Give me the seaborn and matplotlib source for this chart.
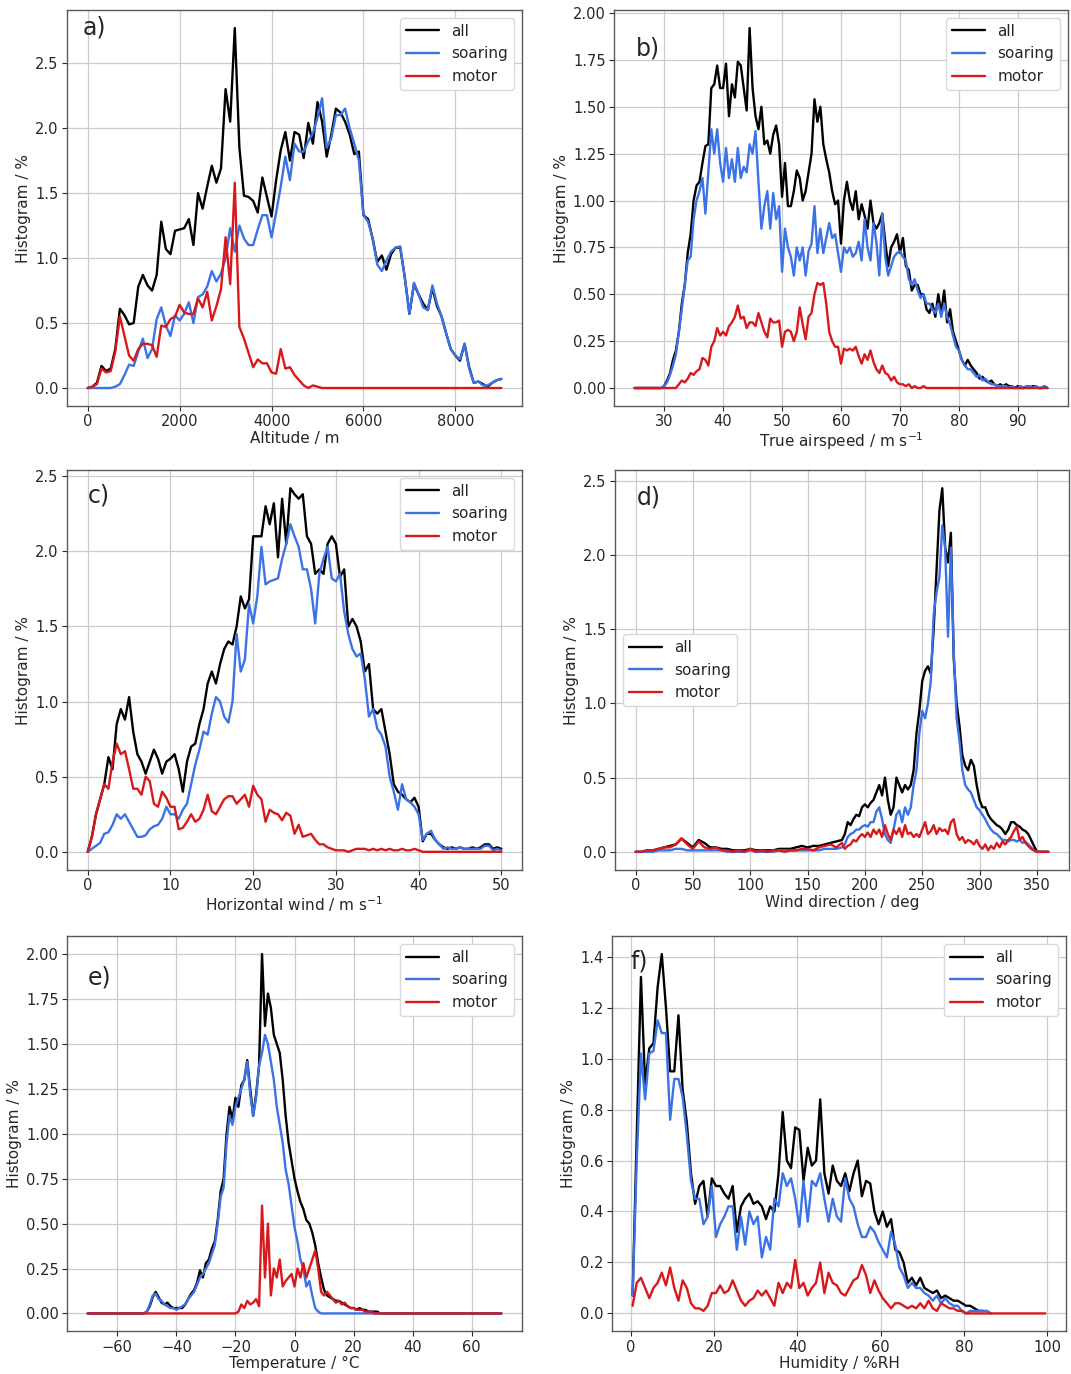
import numpy as np
import matplotlib.pyplot as plt
from matplotlib.ticker import MultipleLocator
import seaborn as sns

# ------------------ DATA ------------------
# a) Altitude, bins every 100 m from 0 to 9000
alt_x = np.arange(0, 9001, 100)
alt_all = [0.00, 0.01, 0.04, 0.17, 0.13, 0.15, 0.30, 0.61, 0.56, 0.49,
           0.50, 0.78, 0.87, 0.79, 0.75, 0.87, 1.28, 1.07, 1.03, 1.21,
           1.22, 1.23, 1.30, 1.10, 1.50, 1.38, 1.55, 1.71, 1.58, 1.69,
           2.30, 2.05, 2.77, 1.85, 1.48, 1.47, 1.44, 1.35, 1.62, 1.47,
           1.32, 1.60, 1.83, 1.97, 1.75, 1.97, 1.95, 1.77, 2.04, 1.88,
           2.20, 2.05, 1.78, 1.95, 2.15, 2.12, 2.05, 1.95, 1.80, 1.82,
           1.33, 1.30, 1.15, 0.97, 1.02, 0.91, 1.03, 1.08, 1.08, 0.85,
           0.57, 0.80, 0.72, 0.65, 0.60, 0.77, 0.63, 0.55, 0.42, 0.30,
           0.25, 0.21, 0.34, 0.16, 0.04, 0.05, 0.03, 0.01, 0.04, 0.06,
           0.07]
alt_soar = [0.00, 0.00, 0.00, 0.00, 0.00, 0.00, 0.01, 0.03, 0.10, 0.18,
            0.17, 0.28, 0.38, 0.23, 0.30, 0.53, 0.62, 0.48, 0.40, 0.56,
            0.52, 0.57, 0.66, 0.50, 0.70, 0.72, 0.78, 0.90, 0.82, 0.88,
            1.00, 1.23, 1.05, 1.25, 1.15, 1.10, 1.10, 1.22, 1.33, 1.33,
            1.16, 1.35, 1.55, 1.78, 1.60, 1.88, 1.82, 1.82, 1.90, 1.96,
            2.08, 2.23, 1.85, 1.92, 2.10, 2.10, 2.15, 2.00, 1.88, 1.75,
            1.33, 1.28, 1.15, 0.95, 0.90, 0.98, 1.05, 1.08, 1.09, 0.85,
            0.57, 0.81, 0.72, 0.62, 0.60, 0.79, 0.65, 0.55, 0.42, 0.30,
            0.25, 0.22, 0.34, 0.15, 0.04, 0.05, 0.02, 0.02, 0.04, 0.06,
            0.07]
alt_motor = [0.00, 0.01, 0.03, 0.15, 0.12, 0.13, 0.28, 0.55, 0.40, 0.25,
             0.21, 0.30, 0.34, 0.34, 0.33, 0.24, 0.48, 0.47, 0.53, 0.55,
             0.64, 0.58, 0.57, 0.57, 0.69, 0.62, 0.74, 0.52, 0.63, 0.76,
             1.16, 0.80, 1.58, 0.47, 0.38, 0.27, 0.16, 0.22, 0.19, 0.19,
             0.12, 0.11, 0.30, 0.15, 0.16, 0.10, 0.06, 0.02, 0.00, 0.02,
             0.01, 0.00, 0.00, 0.00, 0.00, 0.00, 0.00, 0.00, 0.00, 0.00,
             0.00, 0.00, 0.00, 0.00, 0.00, 0.00, 0.00, 0.00, 0.00, 0.00,
             0.00, 0.00, 0.00, 0.00, 0.00, 0.00, 0.00, 0.00, 0.00, 0.00,
             0.00, 0.00, 0.00, 0.00, 0.00, 0.00, 0.00, 0.00, 0.00, 0.00,
             0.00]

# b) True airspeed, bins every 0.5 m/s from 25 to 95
tas_x = np.arange(25, 95.01, 0.5)
tas_all = [0.00, 0.00, 0.00, 0.00, 0.00, 0.00, 0.00, 0.00, 0.00, 0.00,
           0.01, 0.04, 0.08, 0.15, 0.20, 0.30, 0.45, 0.55, 0.72, 0.82,
           1.00, 1.08, 1.10, 1.20, 1.29, 1.30, 1.60, 1.62, 1.72, 1.60,
           1.60, 1.73, 1.45, 1.62, 1.55, 1.74, 1.72, 1.60, 1.48, 1.92,
           1.60, 1.45, 1.38, 1.50, 1.30, 1.32, 1.25, 1.35, 1.40, 1.30,
           1.02, 1.20, 0.97, 0.97, 1.05, 1.16, 1.12, 1.00, 1.05, 1.15,
           1.25, 1.54, 1.42, 1.50, 1.30, 1.22, 1.15, 1.05, 0.98, 1.00,
           0.77, 1.00, 1.10, 1.00, 0.95, 1.05, 0.90, 0.98, 0.92, 0.85,
           1.00, 0.88, 0.85, 0.88, 0.93, 0.78, 0.65, 0.75, 0.78, 0.82,
           0.72, 0.80, 0.65, 0.63, 0.52, 0.55, 0.55, 0.50, 0.50, 0.42,
           0.40, 0.45, 0.38, 0.50, 0.40, 0.52, 0.35, 0.42, 0.30, 0.25,
           0.20, 0.15, 0.12, 0.15, 0.12, 0.10, 0.08, 0.05, 0.06, 0.04,
           0.03, 0.04, 0.02, 0.01, 0.02, 0.01, 0.02, 0.01, 0.01, 0.00,
           0.01, 0.00, 0.00, 0.01, 0.00, 0.01, 0.01, 0.00, 0.00, 0.01,
           0.00]
tas_soar = [0.00, 0.00, 0.00, 0.00, 0.00, 0.00, 0.00, 0.00, 0.00, 0.00,
            0.01, 0.03, 0.07, 0.12, 0.18, 0.30, 0.42, 0.55, 0.68, 0.70,
            0.90, 1.00, 1.05, 1.12, 0.93, 1.15, 1.38, 1.25, 1.38, 1.20,
            1.10, 1.28, 1.12, 1.22, 1.10, 1.28, 1.12, 1.18, 1.15, 1.30,
            1.25, 1.37, 1.10, 0.85, 0.97, 1.05, 0.85, 1.04, 0.90, 0.97,
            0.62, 0.85, 0.75, 0.70, 0.60, 0.75, 0.68, 0.75, 0.60, 0.73,
            0.77, 0.97, 0.72, 0.85, 0.72, 0.80, 0.88, 0.80, 0.82, 0.72,
            0.62, 0.75, 0.72, 0.75, 0.70, 0.72, 0.78, 0.68, 0.90, 0.75,
            0.68, 0.88, 0.78, 0.60, 0.93, 0.70, 0.60, 0.65, 0.70, 0.72,
            0.73, 0.70, 0.68, 0.58, 0.55, 0.58, 0.52, 0.48, 0.50, 0.45,
            0.45, 0.42, 0.40, 0.45, 0.38, 0.45, 0.38, 0.34, 0.28, 0.22,
            0.20, 0.15, 0.12, 0.10, 0.10, 0.08, 0.06, 0.07, 0.04, 0.05,
            0.03, 0.02, 0.02, 0.01, 0.01, 0.01, 0.01, 0.00, 0.01, 0.00,
            0.00, 0.01, 0.00, 0.01, 0.01, 0.00, 0.01, 0.00, 0.00, 0.01,
            0.00]
tas_motor = [0.00, 0.00, 0.00, 0.00, 0.00, 0.00, 0.00, 0.00, 0.00, 0.00,
             0.00, 0.00, 0.00, 0.00, 0.00, 0.02, 0.04, 0.03, 0.05, 0.08,
             0.07, 0.09, 0.10, 0.16, 0.15, 0.12, 0.22, 0.25, 0.32, 0.28,
             0.30, 0.28, 0.33, 0.35, 0.38, 0.44, 0.37, 0.38, 0.32, 0.35,
             0.35, 0.33, 0.40, 0.35, 0.30, 0.27, 0.37, 0.35, 0.35, 0.36,
             0.22, 0.30, 0.31, 0.30, 0.25, 0.30, 0.43, 0.34, 0.26, 0.38,
             0.40, 0.50, 0.56, 0.55, 0.56, 0.45, 0.30, 0.25, 0.22, 0.22,
             0.13, 0.21, 0.20, 0.21, 0.20, 0.22, 0.17, 0.13, 0.18, 0.15,
             0.20, 0.14, 0.10, 0.08, 0.12, 0.08, 0.07, 0.04, 0.06, 0.03,
             0.02, 0.02, 0.01, 0.02, 0.00, 0.01, 0.00, 0.00, 0.01, 0.00,
             0.00, 0.00, 0.00, 0.00, 0.00, 0.00, 0.00, 0.00, 0.00, 0.00,
             0.00, 0.00, 0.00, 0.00, 0.00, 0.00, 0.00, 0.00, 0.00, 0.00,
             0.00, 0.00, 0.00, 0.00, 0.00, 0.00, 0.00, 0.00, 0.00, 0.00,
             0.00, 0.00, 0.00, 0.00, 0.00, 0.00, 0.00, 0.00, 0.00, 0.00,
             0.00]

# c) Horizontal wind, bins every 0.5 m/s from 0 to 50
wind_x = np.arange(0, 50.01, 0.5)
wind_all = [0.00, 0.10, 0.25, 0.35, 0.45, 0.63, 0.55, 0.85, 0.95, 0.88,
            1.03, 0.80, 0.65, 0.60, 0.52, 0.60, 0.68, 0.62, 0.52, 0.60,
            0.62, 0.65, 0.55, 0.40, 0.60, 0.70, 0.72, 0.85, 0.95, 1.12,
            1.20, 1.12, 1.25, 1.35, 1.40, 1.38, 1.50, 1.70, 1.62, 1.68,
            2.10, 2.10, 2.10, 2.30, 2.18, 2.32, 1.96, 2.35, 2.05, 2.42,
            2.38, 2.35, 2.38, 2.10, 2.05, 1.85, 1.88, 1.85, 2.05, 2.10,
            2.05, 1.83, 1.88, 1.50, 1.55, 1.50, 1.40, 1.20, 1.25, 0.95,
            0.92, 0.95, 0.80, 0.65, 0.45, 0.40, 0.38, 0.35, 0.33, 0.36,
            0.30, 0.07, 0.12, 0.12, 0.08, 0.05, 0.03, 0.02, 0.03, 0.02,
            0.03, 0.02, 0.02, 0.03, 0.02, 0.03, 0.05, 0.05, 0.02, 0.03,
            0.02]
wind_soar = [0.00, 0.02, 0.04, 0.06, 0.12, 0.13, 0.18, 0.25, 0.22, 0.25,
             0.20, 0.15, 0.10, 0.10, 0.11, 0.15, 0.17, 0.18, 0.22, 0.30,
             0.25, 0.25, 0.22, 0.28, 0.32, 0.45, 0.58, 0.68, 0.80, 0.78,
             0.92, 1.03, 1.00, 0.90, 0.86, 1.00, 1.45, 1.20, 1.28, 1.65,
             1.52, 1.70, 2.03, 1.78, 1.80, 1.81, 1.82, 1.95, 2.05, 2.18,
             2.10, 2.03, 1.88, 1.88, 1.75, 1.52, 1.85, 1.95, 2.03, 1.82,
             1.80, 1.85, 1.60, 1.45, 1.35, 1.30, 1.32, 1.15, 0.90, 0.95,
             0.82, 0.78, 0.70, 0.50, 0.40, 0.28, 0.45, 0.35, 0.33, 0.30,
             0.25, 0.08, 0.12, 0.14, 0.08, 0.05, 0.02, 0.03, 0.02, 0.02,
             0.03, 0.02, 0.02, 0.02, 0.02, 0.02, 0.04, 0.04, 0.01, 0.02,
             0.01]
wind_motor = [0.00, 0.10, 0.25, 0.35, 0.45, 0.42, 0.60, 0.72, 0.65, 0.67,
              0.55, 0.42, 0.42, 0.38, 0.50, 0.47, 0.32, 0.30, 0.40, 0.36,
              0.30, 0.30, 0.15, 0.16, 0.20, 0.25, 0.20, 0.22, 0.28, 0.38,
              0.27, 0.25, 0.30, 0.35, 0.37, 0.37, 0.32, 0.35, 0.38, 0.30,
              0.44, 0.38, 0.35, 0.20, 0.28, 0.26, 0.25, 0.21, 0.26, 0.24,
              0.12, 0.18, 0.10, 0.11, 0.12, 0.08, 0.05, 0.05, 0.03, 0.02,
              0.01, 0.01, 0.01, 0.00, 0.01, 0.02, 0.02, 0.02, 0.01, 0.02,
              0.01, 0.02, 0.01, 0.02, 0.01, 0.01, 0.02, 0.01, 0.01, 0.02,
              0.01, 0.00, 0.00, 0.00, 0.00, 0.00, 0.00, 0.00, 0.00, 0.00,
              0.00, 0.00, 0.00, 0.00, 0.00, 0.00, 0.00, 0.00, 0.00, 0.00,
              0.00]

# d) Wind direction: every 5 deg up to 175, then every 2.5 deg to 360
wdir_x = np.concatenate([np.arange(0, 176, 5), np.arange(180, 360.01, 2.5)])
wdir_all = [0.00, 0.00, 0.01, 0.01, 0.02, 0.03, 0.04, 0.05, 0.09, 0.06,
            0.03, 0.08, 0.06, 0.03, 0.03, 0.02, 0.02, 0.01, 0.01, 0.01,
            0.02, 0.01, 0.01, 0.01, 0.01, 0.02, 0.02, 0.02, 0.03, 0.04,
            0.03, 0.04, 0.04, 0.05, 0.06, 0.07,
            0.08, 0.12, 0.20, 0.18, 0.22, 0.25, 0.24, 0.30, 0.32, 0.30,
            0.33, 0.35, 0.40, 0.45, 0.38, 0.50, 0.35, 0.25, 0.30, 0.50,
            0.45, 0.40, 0.45, 0.42, 0.45, 0.55, 0.80, 0.95, 1.15, 1.22,
            1.25, 1.20, 1.50, 1.90, 2.30, 2.45, 2.05, 1.95, 2.15, 1.30,
            1.00, 0.85, 0.65, 0.58, 0.55, 0.62, 0.58, 0.45, 0.35, 0.30,
            0.30, 0.25, 0.22, 0.20, 0.18, 0.17, 0.15, 0.12, 0.15, 0.20,
            0.20, 0.18, 0.17, 0.15, 0.14, 0.12, 0.08, 0.04, 0.00, 0.00,
            0.00, 0.00, 0.00]
wdir_soar = [0.00, 0.00, 0.00, 0.00, 0.01, 0.01, 0.01, 0.02, 0.02, 0.01,
             0.01, 0.01, 0.01, 0.01, 0.01, 0.01, 0.00, 0.00, 0.00, 0.00,
             0.01, 0.00, 0.00, 0.00, 0.00, 0.01, 0.01, 0.01, 0.01, 0.01,
             0.01, 0.01, 0.01, 0.02, 0.02, 0.02,
             0.03, 0.05, 0.10, 0.12, 0.13, 0.15, 0.15, 0.17, 0.18, 0.17,
             0.20, 0.20, 0.27, 0.30, 0.22, 0.12, 0.08, 0.06, 0.15, 0.25,
             0.28, 0.20, 0.30, 0.25, 0.30, 0.45, 0.55, 0.80, 0.95, 0.90,
             1.00, 1.15, 1.60, 1.75, 1.85, 2.20, 2.05, 1.45, 2.05, 1.35,
             0.90, 0.75, 0.55, 0.45, 0.42, 0.40, 0.35, 0.30, 0.28, 0.25,
             0.22, 0.18, 0.15, 0.13, 0.12, 0.10, 0.08, 0.08, 0.07, 0.08,
             0.08, 0.07, 0.08, 0.06, 0.07, 0.05, 0.03, 0.01, 0.00, 0.00,
             0.00, 0.00, 0.00]
wdir_motor = [0.00, 0.00, 0.01, 0.01, 0.02, 0.03, 0.03, 0.05, 0.09, 0.05,
              0.02, 0.07, 0.03, 0.02, 0.03, 0.01, 0.01, 0.00, 0.01, 0.00,
              0.02, 0.00, 0.01, 0.00, 0.01, 0.01, 0.00, 0.01, 0.01, 0.02,
              0.02, 0.01, 0.03, 0.04, 0.05, 0.03,
              0.06, 0.02, 0.04, 0.05, 0.08, 0.07, 0.10, 0.12, 0.10, 0.13,
              0.10, 0.15, 0.12, 0.15, 0.10, 0.18, 0.12, 0.08, 0.15, 0.12,
              0.16, 0.10, 0.18, 0.12, 0.13, 0.10, 0.12, 0.10, 0.15, 0.20,
              0.12, 0.14, 0.18, 0.12, 0.16, 0.14, 0.15, 0.12, 0.20, 0.22,
              0.12, 0.08, 0.10, 0.06, 0.08, 0.07, 0.05, 0.08, 0.04, 0.02,
              0.05, 0.01, 0.04, 0.02, 0.06, 0.03, 0.07, 0.05, 0.08, 0.10,
              0.14, 0.17, 0.08, 0.10, 0.06, 0.04, 0.02, 0.01, 0.00, 0.00,
              0.00, 0.00, 0.00]

# e) Temperature: -70, then every 1 degC from -51 to 30, then 70
temp_x = np.concatenate([[-70], np.arange(-51, 31), [70]])
temp_all = [0.00,
            0.00, 0.01, 0.04, 0.09, 0.12, 0.09, 0.06, 0.05, 0.06, 0.04,
            0.03, 0.03, 0.03, 0.03, 0.05, 0.08, 0.11, 0.13, 0.17, 0.24,
            0.20, 0.28, 0.30, 0.36, 0.40, 0.52, 0.68, 0.75, 1.00, 1.15,
            1.08, 1.20, 1.15, 1.27, 1.30, 1.41, 1.25, 1.10, 1.22, 1.38,
            2.00, 1.60, 1.78, 1.70, 1.55, 1.50, 1.45, 1.30, 1.10, 0.95,
            0.85, 0.75, 0.68, 0.62, 0.58, 0.52, 0.50, 0.45, 0.38, 0.28,
            0.20, 0.13, 0.10, 0.09, 0.08, 0.07, 0.07, 0.06, 0.05, 0.04,
            0.03, 0.03, 0.02, 0.03, 0.02, 0.02, 0.01, 0.01, 0.01, 0.01,
            0.00, 0.00,
            0.00]
temp_soar = [0.00,
             0.00, 0.01, 0.05, 0.10, 0.11, 0.08, 0.07, 0.05, 0.04, 0.03,
             0.03, 0.02, 0.03, 0.04, 0.05, 0.08, 0.10, 0.12, 0.16, 0.20,
             0.22, 0.25, 0.28, 0.33, 0.38, 0.50, 0.65, 0.70, 0.95, 1.10,
             1.05, 1.15, 1.20, 1.25, 1.30, 1.40, 1.22, 1.10, 1.20, 1.38,
             1.45, 1.55, 1.50, 1.40, 1.30, 1.15, 1.05, 0.95, 0.80, 0.72,
             0.60, 0.48, 0.40, 0.30, 0.25, 0.15, 0.18, 0.10, 0.03, 0.01,
             0.00, 0.00, 0.00, 0.00, 0.00, 0.00, 0.00, 0.00, 0.00, 0.00,
             0.00, 0.00, 0.00, 0.00, 0.00, 0.00, 0.00, 0.00, 0.00, 0.00,
             0.00, 0.00,
             0.00]
temp_motor = [0.00,
              0.00, 0.00, 0.00, 0.00, 0.00, 0.00, 0.00, 0.00, 0.00, 0.00,
              0.00, 0.00, 0.00, 0.00, 0.00, 0.00, 0.00, 0.00, 0.00, 0.00,
              0.00, 0.00, 0.00, 0.00, 0.00, 0.00, 0.00, 0.00, 0.00, 0.00,
              0.00, 0.00, 0.01, 0.05, 0.03, 0.07, 0.05, 0.06, 0.08, 0.04,
              0.60, 0.20, 0.50, 0.10, 0.25, 0.20, 0.30, 0.15, 0.18, 0.20,
              0.22, 0.15, 0.25, 0.20, 0.28, 0.20, 0.25, 0.30, 0.35, 0.25,
              0.12, 0.10, 0.12, 0.10, 0.08, 0.06, 0.07, 0.05, 0.06, 0.04,
              0.03, 0.03, 0.02, 0.02, 0.02, 0.01, 0.01, 0.01, 0.00, 0.00,
              0.00, 0.00,
              0.00]

# f) Humidity, bins of 1 %RH centred on 0.5 ... 99.5
rh_x = np.arange(0.5, 100, 1.0)
rh_all = [0.07, 0.70, 1.32, 0.90, 1.04, 1.06, 1.28, 1.41, 1.20, 0.95,
          0.95, 1.17, 0.88, 0.75, 0.55, 0.43, 0.50, 0.52, 0.38, 0.53,
          0.50, 0.50, 0.47, 0.45, 0.50, 0.32, 0.42, 0.45, 0.47, 0.43,
          0.44, 0.42, 0.37, 0.42, 0.40, 0.55, 0.79, 0.60, 0.57, 0.73,
          0.72, 0.52, 0.65, 0.58, 0.60, 0.84, 0.55, 0.47, 0.58, 0.52,
          0.50, 0.55, 0.48, 0.55, 0.60, 0.46, 0.52, 0.51, 0.40, 0.35,
          0.40, 0.34, 0.37, 0.25, 0.24, 0.20, 0.12, 0.14, 0.11, 0.14,
          0.10, 0.09, 0.08, 0.09, 0.06, 0.07, 0.06, 0.05, 0.05, 0.04,
          0.03, 0.03, 0.02, 0.01, 0.01]
rh_soar = [0.07, 0.60, 1.02, 0.84, 1.02, 1.03, 1.15, 1.10, 1.10, 0.76,
           0.92, 0.92, 0.85, 0.70, 0.52, 0.45, 0.45, 0.35, 0.38, 0.50,
           0.30, 0.35, 0.38, 0.42, 0.42, 0.25, 0.38, 0.27, 0.40, 0.35,
           0.38, 0.22, 0.30, 0.25, 0.45, 0.42, 0.55, 0.50, 0.53, 0.45,
           0.34, 0.52, 0.36, 0.52, 0.50, 0.55, 0.45, 0.36, 0.45, 0.38,
           0.36, 0.53, 0.45, 0.42, 0.35, 0.30, 0.30, 0.34, 0.32, 0.28,
           0.25, 0.22, 0.32, 0.27, 0.18, 0.15, 0.10, 0.12, 0.10, 0.10,
           0.08, 0.07, 0.05, 0.07, 0.04, 0.06, 0.04, 0.03, 0.03, 0.01,
           0.00, 0.01, 0.01, 0.01, 0.01, 0.01, 0.00]
rh_motor = [0.03, 0.12, 0.14, 0.10, 0.06, 0.10, 0.12, 0.16, 0.11, 0.18,
            0.10, 0.05, 0.13, 0.10, 0.04, 0.02, 0.02, 0.01, 0.03, 0.08,
            0.08, 0.11, 0.08, 0.09, 0.13, 0.09, 0.05, 0.03, 0.05, 0.06,
            0.09, 0.07, 0.09, 0.06, 0.03, 0.12, 0.08, 0.12, 0.10, 0.21,
            0.10, 0.12, 0.07, 0.10, 0.12, 0.20, 0.08, 0.16, 0.12, 0.11,
            0.08, 0.07, 0.10, 0.13, 0.14, 0.19, 0.15, 0.08, 0.13, 0.09,
            0.06, 0.04, 0.02, 0.04, 0.04, 0.03, 0.02, 0.03, 0.02, 0.04,
            0.02, 0.05, 0.02, 0.01, 0.04, 0.03, 0.02, 0.02, 0.01, 0.01,
            0.00, 0.00, 0.00, 0.00, 0.00, 0.00, 0.00, 0.00, 0.00, 0.00,
            0.00, 0.00, 0.00, 0.00, 0.00, 0.00, 0.00, 0.00, 0.00, 0.00]

# ------------------ STYLE ------------------
sns.set_style("whitegrid", {"axes.edgecolor": "0.35", "grid.color": "0.8",
                            "xtick.bottom": True, "ytick.left": True,
                            "xtick.color": "0.15", "ytick.color": "0.15"})
plt.rcParams['font.family'] = ['DejaVu Sans']
plt.rcParams.update({'xtick.labelsize': 10.5, 'ytick.labelsize': 10.5,
                     'axes.labelsize': 11, 'legend.fontsize': 11,
                     'axes.linewidth': 1.0, 'grid.linewidth': 0.9,
                     'xtick.major.size': 3.5, 'ytick.major.size': 3.5,
                     'xtick.major.pad': 2.5, 'ytick.major.pad': 2.5})

colors = {'all': 'black', 'soaring': '#3b72e6', 'motor': '#d7191c'}

fig = plt.figure(figsize=(10.71, 13.74), dpi=100)


def draw(rect, x, all_v, soar_v, motor_v, xlabel, tag, tag_pos, xstep, ystep, legend_loc):
    ax = fig.add_axes(rect)
    for name, vals in [('all', all_v), ('soaring', soar_v), ('motor', motor_v)]:
        vals = np.asarray(vals)
        sns.lineplot(x=x[:len(vals)], y=vals, color=colors[name], lw=1.7,
                     label=name, ax=ax, estimator=None, sort=False)
    ax.xaxis.set_major_locator(MultipleLocator(xstep))
    ax.yaxis.set_major_locator(MultipleLocator(ystep))
    ax.set_xlabel(xlabel, labelpad=1)
    ax.set_ylabel('Histogram / %', labelpad=3)
    ax.text(tag_pos[0], tag_pos[1], tag, transform=ax.transAxes,
            fontsize=17, ha='left', va='center')
    ax.legend(loc=legend_loc, frameon=True, framealpha=1, edgecolor='0.85',
              handlelength=2.2)
    return ax


draw([0.0626, 0.7045, 0.4248, 0.2882], alt_x, alt_all, alt_soar, alt_motor,
     'Altitude / m', 'a)', (0.035, 0.955), 2000, 0.5, 'upper right')
draw([0.5733, 0.7045, 0.4239, 0.2882], tas_x, tas_all, tas_soar, tas_motor,
     'True airspeed / m s$^{-1}$', 'b)', (0.048, 0.904), 10, 0.25, 'upper right')
draw([0.0626, 0.3668, 0.4248, 0.2911], wind_x, wind_all, wind_soar, wind_motor,
     'Horizontal wind / m s$^{-1}$', 'c)', (0.045, 0.937), 10, 0.5, 'upper right')
draw([0.5742, 0.3668, 0.4239, 0.2911], wdir_x, wdir_all, wdir_soar, wdir_motor,
     'Wind direction / deg', 'd)', (0.048, 0.932), 50, 0.5, 'center left')
draw([0.0626, 0.0310, 0.4248, 0.2877], temp_x, temp_all, temp_soar, temp_motor,
     'Temperature / °C', 'e)', (0.045, 0.895), 20, 0.25, 'upper right')
draw([0.5714, 0.0310, 0.4239, 0.2877], rh_x, rh_all, rh_soar, rh_motor,
     'Humidity / %RH', 'f)', (0.04, 0.937), 20, 0.2, 'upper right')

fig.savefig('out.png', dpi=100)
